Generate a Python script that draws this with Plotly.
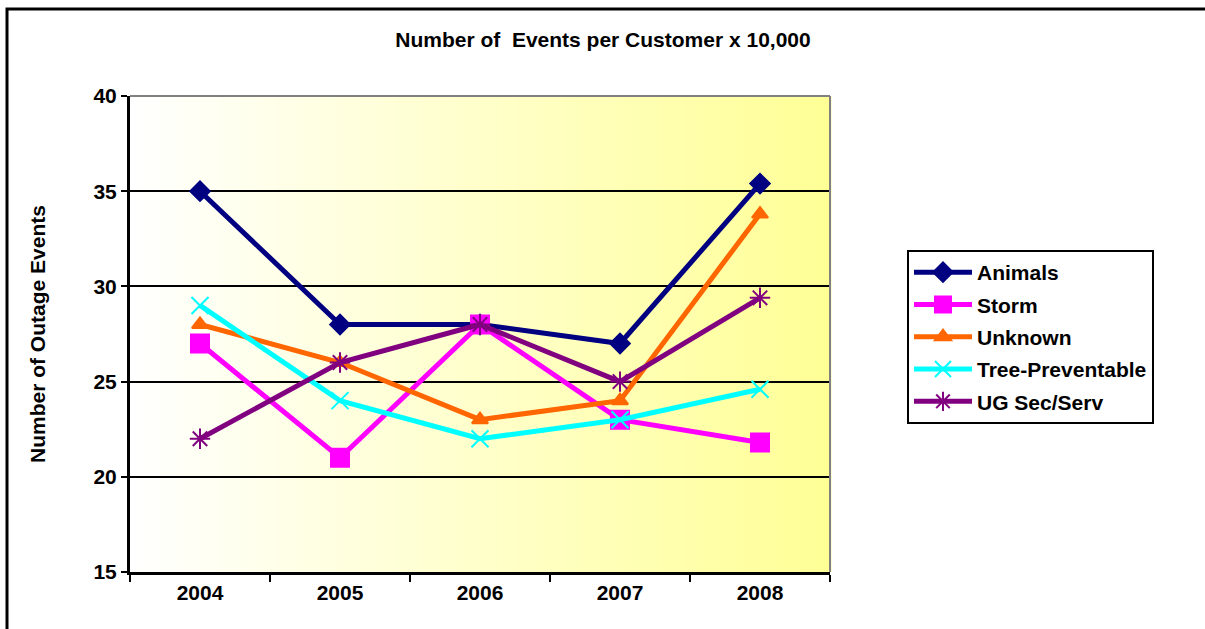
import plotly.graph_objects as go

years = ["2004", "2005", "2006", "2007", "2008"]
animals = [35, 28, 28, 27, 35.4]
storm = [27, 21, 28, 23, 21.8]
unknown = [28, 26, 23, 24, 33.8]
tree_prev = [29, 24, 22, 23, 24.6]
ug_sec = [22, 26, 28, 25, 29.4]

series = [
    ("Animals", animals, "#000080", "diamond", 15),
    ("Storm", storm, "#FF00FF", "square", 18),
    ("Unknown", unknown, "#FF6600", "triangle-up", 14),
    ("Tree-Preventable", tree_prev, "#00FFFF", "x-thin-open", 17),
    ("UG Sec/Serv", ug_sec, "#800080", "asterisk-open", 17),
]

FONT = "Liberation Sans, Arial, sans-serif"

fig = go.Figure()
for i, (name, vals, color, sym, sz) in enumerate(series):
    fig.add_trace(go.Scatter(
        x=years, y=vals, name=name, mode="lines+markers",
        legendgroup=f"g{i}",
        line=dict(color=color, width=5),
        marker=dict(symbol=sym, size=sz, color=color,
                    line=dict(color=color, width=2)),
    ))

# gradient background strips (white -> light yellow)
shapes = []
n = 140
for k in range(n):
    t = (k + 0.5) / n
    b = round(255 - (255 - 150) * t)
    shapes.append(dict(type="rect", xref="x domain", yref="y domain",
                       x0=k / n, x1=(k + 1) / n + 0.002, y0=0, y1=1,
                       fillcolor=f"rgb(255,255,{b})", line=dict(width=0),
                       layer="below"))
# gray top and right border of plot area
shapes.append(dict(type="line", xref="x domain", yref="y domain",
                   x0=0, x1=1, y0=1, y1=1, line=dict(color="#808080", width=2)))
shapes.append(dict(type="line", xref="x domain", yref="y domain",
                   x0=1, x1=1, y0=0, y1=1, line=dict(color="#808080", width=2)))
# outer chart border
shapes.append(dict(type="rect", xref="paper", yref="paper",
                   x0=-0.1757, x1=1.6, y0=-0.2, y1=1.1828,
                   line=dict(color="black", width=3), fillcolor="rgba(0,0,0,0)"))

fig.update_layout(
    width=1205, height=629,
    margin=dict(l=130, r=375, t=96, b=57),
    paper_bgcolor="white",
    plot_bgcolor="white",
    font=dict(family=FONT, size=21, color="black"),
    shapes=shapes,
    title=dict(text="<b>Number of\u00a0 Events per Customer x 10,000</b>",
               x=0.5004, xref="container", xanchor="center",
               y=0.9364, yref="container", yanchor="middle",
               font=dict(family=FONT, size=21, color="black")),
    annotations=[dict(text="<b>Number of Outage Events</b>", textangle=-90,
                      xref="paper", yref="paper", x=-0.1329, y=0.5,
                      showarrow=False, xanchor="center", yanchor="middle",
                      font=dict(family=FONT, size=21, color="black"))],
    legend=dict(x=1.11, y=0.6765, xanchor="left", yanchor="top",
                bordercolor="black", borderwidth=2, bgcolor="white",
                traceorder="grouped", tracegroupgap=2, itemwidth=58,
                font=dict(family=FONT, size=21, color="black", weight="bold")),
    showlegend=True,
)

fig.update_xaxes(
    type="category", range=[-0.5, 4.5], tickson="boundaries",
    ticks="outside", ticklen=7, tickwidth=2, tickcolor="black",
    showline=True, linecolor="black", linewidth=3, showgrid=False,
    tickfont=dict(family=FONT, size=21, color="black", weight="bold"),
)
fig.update_yaxes(
    range=[15, 40], dtick=5, tick0=15,
    ticks="outside", ticklen=6, tickwidth=2, tickcolor="black",
    showline=True, linecolor="black", linewidth=3,
    showgrid=True, gridcolor="black", gridwidth=2, zeroline=False,
    tickfont=dict(family=FONT, size=21, color="black", weight="bold"),
)

fig.write_html("out.html")
